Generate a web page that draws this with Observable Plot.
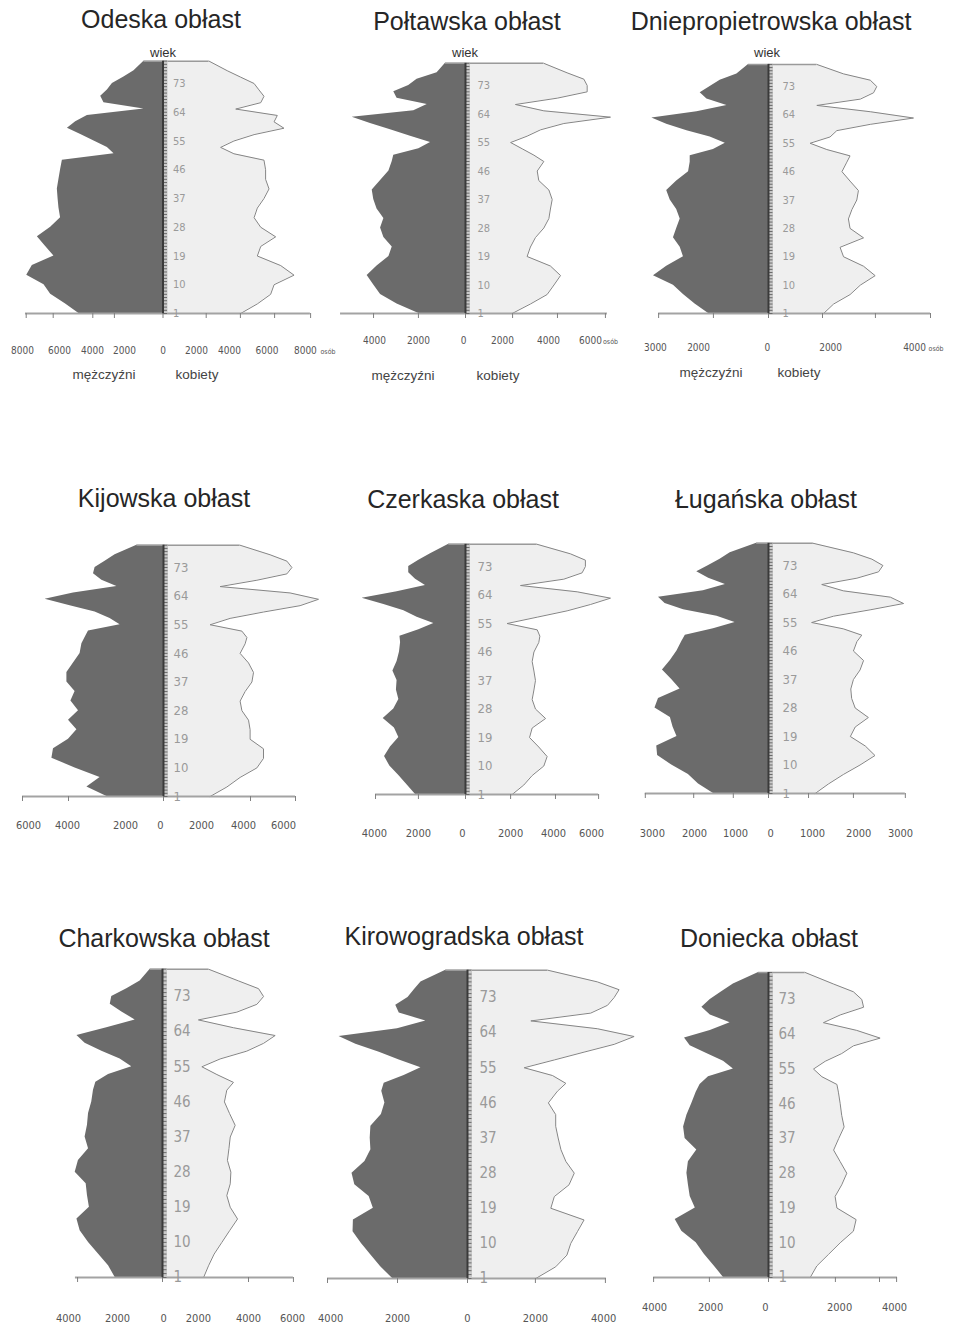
<!DOCTYPE html>
<html><head><meta charset="utf-8">
<script src="https://cdn.jsdelivr.net/npm/d3@7"></script>
<script src="https://cdn.jsdelivr.net/npm/@observablehq/plot@0.6"></script>
<style>
html,body{margin:0;padding:0;background:#fff;}
#page{position:relative;width:965px;height:1330px;overflow:hidden;background:#fff;font-family:"Liberation Sans",Arial,sans-serif;}
.t{position:absolute;white-space:nowrap;line-height:1;}
#page svg{position:absolute;overflow:visible;}
</style></head><body><div id="page"></div>
<script>
// ---------- DATA ----------
const AGES = [1,4,7,10,13,16,19,22,25,28,31,34,37,40,43,46,49,51,53,55,57,59,61,63,65,67,69,71,73,75,77,80];
const AGE_LABELS = [1,10,19,28,37,46,55,64,73];

const odeskaM = [4670,5410,6240,6610,7570,7260,6060,6520,6980,6240,5690,5780,5830,5870,5780,5690,5590,2720,3090,3830,4570,5310,4850,4200,1060,3280,3460,3090,2810,2170,1610,1060];
const odeskaF = [4310,5240,5980,6170,7280,6540,5240,5430,6260,5430,5060,5240,5610,5890,5700,5700,5610,3940,3200,3940,5060,6720,6170,6350,4040,5430,5610,5330,5060,4310,3570,2560];
const poltawskaM = [2120,3110,3860,4170,4470,4020,3480,3330,3710,3860,3710,4020,4170,4240,3860,3480,3330,3260,2120,1590,2500,3410,4320,5150,2350,1740,3110,3260,2580,2200,1290,910];
const poltawskaF = [2120,2950,3710,4020,4320,3860,2800,2950,3180,3560,3790,3860,3940,3790,3330,3260,3560,3110,2580,2050,2800,3410,4470,6590,3560,2270,4170,5530,5530,5380,4620,3560];
const dnieproM = [2220,2720,3150,3520,4260,3770,3150,3270,3520,3400,3270,3400,3640,3770,3400,2960,2900,2900,2040,1600,2160,3020,3770,4320,2650,1540,2280,2530,2160,1790,1170,740];
const dnieproF = [2040,2410,3020,3400,3950,3520,2780,2650,3520,3020,2960,3090,3270,3330,3020,2720,2900,3020,2160,1540,2280,2530,3770,5370,3770,1790,3400,3890,4010,3770,2780,1790];
const kijowskaM = [2830,3830,3170,4420,5580,5500,4750,4330,4750,4250,4630,4420,4830,4830,4500,4170,4080,3920,3750,2170,2670,3420,4670,5920,4500,2330,3080,3500,3420,2920,2420,1330];
const kijowskaF = [2330,3170,3830,4670,5000,5000,4330,4330,4250,3920,3830,4080,4420,4500,4250,3830,4080,4170,3920,2330,3330,5000,6830,7750,6330,2830,4670,6170,6420,6170,5330,3830];
const czerkaskaM = [2270,2650,3030,3440,3680,3410,3030,3230,3740,3260,3030,3140,3110,3300,3110,3000,2950,2980,2120,1440,2200,2800,3710,4700,3110,1820,2270,2580,2580,2120,1590,760];
const czerkaskaF = [2120,2650,3030,3560,3710,3330,2910,3030,3640,3180,3030,3110,3180,3110,3030,3110,3330,3380,3260,1890,3260,4620,5680,6590,5080,2500,4470,5300,5450,5450,4770,3260];
const luganskaM = [1250,1590,1820,2200,2520,2540,2080,2170,2230,2580,2500,2010,2200,2410,2230,2080,1970,1890,1250,760,1170,1930,2350,2500,1480,980,1360,1630,1360,1100,870,270];
const luganskaF = [1060,1360,1700,2080,2420,2200,1860,1970,2270,1970,1890,1870,1930,2080,2160,1930,2010,2120,1700,980,1480,2310,3070,2770,1700,1210,2010,2500,2600,2350,1930,1020];
const charkowskaM = [2200,2510,2980,3440,3830,3980,3400,3490,3550,4060,3910,3440,3600,3490,3440,3290,3210,3100,2510,1430,1970,2820,3600,3980,2590,1270,1890,2430,2360,1660,1040,570];
const charkowskaF = [1910,2140,2400,2760,3120,3490,3150,2990,3150,3180,3020,3090,3150,3380,3120,2880,2990,3300,2530,1830,2680,3920,4700,5240,3300,1670,3460,4390,4700,4470,3530,2140];
const kirowogradskaM = [2140,2480,2760,3030,3270,3260,2690,2810,3220,3300,2930,2760,2780,2760,2460,2360,2450,2380,1810,1330,1950,2520,3190,3670,2000,1190,1950,2050,1700,1520,1330,620];
const kirowogradskaF = [1950,2520,2840,2950,3140,3330,2380,2480,2900,3050,2810,2670,2590,2520,2520,2310,2570,2810,2430,1620,2480,3330,4190,4760,3710,1810,3520,4000,4190,4330,3710,2290];
const donieckaM = [1500,1810,2140,2410,2890,3110,2440,2610,2670,2720,2670,2390,2780,2830,2720,2560,2410,2280,2000,1170,1500,2060,2610,2800,1940,1280,1940,2220,1940,1560,1170,330];
const donieckaF = [1390,1610,2000,2390,2830,2920,2280,2220,2440,2610,2390,2170,2340,2520,2440,2390,2330,2280,1780,1500,1890,2440,2830,3720,2940,1830,2390,3170,3110,2830,2170,1220];

// tick marks and tick labels (in persons, as placed on each scanned axis)
const odeskaTicks = [-7600,-6100,-3900,-2700,0,2400,4300,6200,8200];
const odeskaLabelAt = [-7810,-5750,-3920,-2140,0,1860,3690,5780,7910];
const odeskaLabels = ["8000","6000","4000","2000","0","2000","4000","6000","8000"];
const poltawskaTicks = [-4180,-2140,0,2140,4180,6360];
const poltawskaLabelAt = [-4140,-2140,-90,1680,3770,5680];
const poltawskaLabels = ["4000","2000","0","2000","4000","6000"];
const dnieproTicks = [-4070,-2040,0,2000,3960,6000];
const dnieproLabelAt = [-4190,-2590,-40,2300,5410];
const dnieproLabels = ["3000","2000","0","2000","4000"];
const kijowskaTicks = [-7050,-4750,0,4350,6600];
const kijowskaLabelAt = [-6750,-4800,-1900,-150,1900,4000,6000];
const kijowskaLabels = ["6000","4000","2000","0","2000","4000","6000"];
const czerkaskaTicks = [-4090,-2140,0,2050,4090,6050];
const czerkaskaLabelAt = [-4140,-2140,-140,2050,4000,5730];
const czerkaskaLabels = ["4000","2000","0","2000","4000","6000"];
const luganskaTicks = [-2800,-1700,-800,0,910,1930,3110];
const luganskaLabelAt = [-2640,-1680,-750,50,1000,2050,3000];
const luganskaLabels = ["3000","2000","1000","0","1000","2000","3000"];
const charkowskaTicks = [-3950,0,4000,6090];
const charkowskaLabelAt = [-4370,-2090,50,1670,4000,6050];
const charkowskaLabels = ["4000","2000","0","2000","4000","6000"];
const kirowogradskaTicks = [-4000,-2000,0,1940,3940];
const kirowogradskaLabelAt = [-3910,-2000,0,1940,3890];
const kirowogradskaLabels = ["4000","2000","0","2000","4000"];
const donieckaTicks = [-3830,-1970,0,2230,3700,4270];
const donieckaLabelAt = [-3800,-1930,-100,2370,4200];
const donieckaLabels = ["4000","2000","0","2000","4000"];

// ---------- LAYOUT ----------
const NARROW = '"Liberation Sans Narrow","DejaVu Sans Condensed","Liberation Sans",sans-serif';
const panels = [
  {title:"Odeska obłast", m:odeskaM, f:odeskaF, ticks:odeskaTicks, labAt:odeskaLabelAt, labs:odeskaLabels, axis:[-7640,8190], unitAt:8750,
   cx:162.5, k:18, y1:313, y73:83, L:0, W:325, T:40, H:322, labelY:350, ageDx:10, ageFont:11, tickFont:10, tx:161, ty:28},
  {title:"Połtawska obłast", m:poltawskaM, f:poltawskaF, ticks:poltawskaTicks, labAt:poltawskaLabelAt, labs:poltawskaLabels, axis:[-5680,6450], unitAt:6250,
   cx:465, k:22, y1:313, y73:85, L:325, W:300, T:40, H:312, labelY:340, ageDx:12, ageFont:11, tickFont:10, tx:467, ty:30},
  {title:"Dniepropietrowska obłast", m:dnieproM, f:dnieproF, ticks:dnieproTicks, labAt:dnieproLabelAt, labs:dnieproLabels, axis:[-4070,6000], unitAt:5930,
   cx:768, k:27, y1:313, y73:86, L:625, W:340, T:40, H:319, labelY:347, ageDx:14, ageFont:11, tickFont:10, tx:771, ty:30},
  {title:"Kijowska obłast", m:kijowskaM, f:kijowskaF, ticks:kijowskaTicks, labAt:kijowskaLabelAt, labs:kijowskaLabels, axis:[-7050,6600],
   cx:163, k:20, y1:796, y73:567, L:0, W:325, T:520, H:317, labelY:825, ageDx:10, ageFont:13, tickFont:11, tx:164, ty:507},
  {title:"Czerkaska obłast", m:czerkaskaM, f:czerkaskaF, ticks:czerkaskaTicks, labAt:czerkaskaLabelAt, labs:czerkaskaLabels, axis:[-4090,6050],
   cx:465, k:22, y1:794, y73:566, L:325, W:300, T:520, H:325, labelY:833, ageDx:12, ageFont:13, tickFont:11, tx:463, ty:508},
  {title:"Ługańska obłast", m:luganskaM, f:luganskaF, ticks:luganskaTicks, labAt:luganskaLabelAt, labs:luganskaLabels, axis:[-2800,3110],
   cx:768, k:44, y1:793, y73:565, L:625, W:340, T:520, H:325, labelY:833, ageDx:14, ageFont:13, tickFont:11, tx:766, ty:508},
  {title:"Charkowska obłast", m:charkowskaM, f:charkowskaF, ticks:charkowskaTicks, labAt:charkowskaLabelAt, labs:charkowskaLabels, axis:[-4050,6090],
   cx:162, k:21.5, y1:1277, y73:996, L:0, W:325, T:950, H:380, labelY:1318, ageDx:11, ageFont:15, tickFont:11, tx:164, ty:947},
  {title:"Kirowogradska obłast", m:kirowogradskaM, f:kirowogradskaF, ticks:kirowogradskaTicks, labAt:kirowogradskaLabelAt, labs:kirowogradskaLabels, axis:[-4000,3970],
   cx:467, k:35, y1:1278, y73:997, L:325, W:300, T:950, H:380, labelY:1318, ageDx:12, ageFont:15, tickFont:11, tx:464, ty:945},
  {title:"Doniecka obłast", m:donieckaM, f:donieckaF, ticks:donieckaTicks, labAt:donieckaLabelAt, labs:donieckaLabels, axis:[-3830,4300],
   cx:768, k:30, y1:1277, y73:999, L:625, W:340, T:950, H:380, labelY:1307, ageDx:10, ageFont:15, tickFont:11, tx:769, ty:947}
];

const page = document.getElementById("page");
function addText(txt, x, baseline, size, color, anchor) {
  const d = document.createElement("div");
  d.className = "t";
  d.textContent = txt;
  d.style.fontSize = size + "px";
  d.style.color = color;
  d.style.top = (baseline - 0.86 * size) + "px";
  d.style.left = x + "px";
  d.style.transform = anchor === "middle" ? "translateX(-50%)" : anchor === "end" ? "translateX(-100%)" : "none";
  page.appendChild(d);
}

for (const p of panels) {
  const ppy = (p.y1 - p.y73) / 72;
  const ageAt = y => 1 + (p.y1 - y) / ppy;
  const xAt = px => (px - p.cx) / p.k * 1000;
  const pxX = px => px / p.k * 1000;
  const pxY = px => px / ppy;
  const rows = AGES.map((a, i) => ({age: a, m: p.m[i], f: p.f[i]}));
  const top = AGES[AGES.length - 1];
  const last = AGES.length - 1;
  const marks = [
    Plot.areaX(rows, {y: "age", x1: d => -d.m, x2: 0, fill: "#6b6b6b"}),
    Plot.areaX(rows, {y: "age", x1: 0, x2: "f", fill: "#efefef"}),
    Plot.lineX(rows, {y: "age", x: "f", stroke: "#858585", strokeWidth: 1}),
    Plot.ruleY([top], {x1: -p.m[last], x2: p.f[last], stroke: "#9a9a9a", strokeWidth: 1.5}),
    Plot.ruleY([1], {x1: p.axis[0], x2: p.axis[1], stroke: "#a3a3a3", strokeWidth: 2}),
    Plot.ruleX(p.ticks, {x: d => d, y1: 1, y2: 1 - pxY(5), stroke: "#808080", strokeWidth: 1}),
    Plot.ruleX([pxX(2.5)], {y1: 1, y2: top, stroke: "#c9c9c9", strokeWidth: 4}),
    Plot.ruleY(d3.range(1, top + 1), {y: d => d, x1: 0, x2: pxX(4.5), stroke: "#6a6a6a", strokeWidth: 1}),
    Plot.ruleX([0], {y1: 1, y2: top, stroke: "#3a3a3a", strokeWidth: 2}),
    Plot.text(AGE_LABELS, {x: 0, y: d => d, text: d => String(d), dx: p.ageDx, textAnchor: "start",
      fill: "#9a9a9a", fontSize: p.ageFont, fontFamily: NARROW}),
    Plot.text(p.labAt, {x: d => d, y: ageAt(p.labelY), text: (d, i) => p.labs[i],
      fill: "#555", fontSize: p.tickFont, fontFamily: NARROW})
  ];
  if (p.unitAt !== undefined) {
    marks.push(Plot.text([p.unitAt], {x: d => d, y: ageAt(p.labelY + 1), text: () => "osób",
      textAnchor: "start", fill: "#555", fontSize: 7, fontFamily: NARROW}));
  }
  const svg = Plot.plot({
    width: p.W, height: p.H, margin: 0,
    x: {domain: [xAt(p.L), xAt(p.L + p.W)], range: [0, p.W], axis: null},
    y: {domain: [ageAt(p.T + p.H), ageAt(p.T)], range: [p.H, 0], axis: null},
    style: {background: "transparent", overflow: "visible"},
    marks
  });
  svg.style.left = p.L + "px";
  svg.style.top = p.T + "px";
  page.appendChild(svg);
  addText(p.title, p.tx, p.ty, 25, "#262626", "middle");
}

// axis captions of the first row
const wiekX = [163, 465, 767];
for (const x of wiekX) addText("wiek", x, 57, 13, "#333", "middle");
const menX = [104, 403, 711];
const womenX = [197, 498, 799];
const captionY = [380, 381, 378];
menX.forEach((x, i) => addText("mężczyźni", x, captionY[i], 13.5, "#444", "middle"));
womenX.forEach((x, i) => addText("kobiety", x, captionY[i], 13.5, "#444", "middle"));
</script>
</body></html>
